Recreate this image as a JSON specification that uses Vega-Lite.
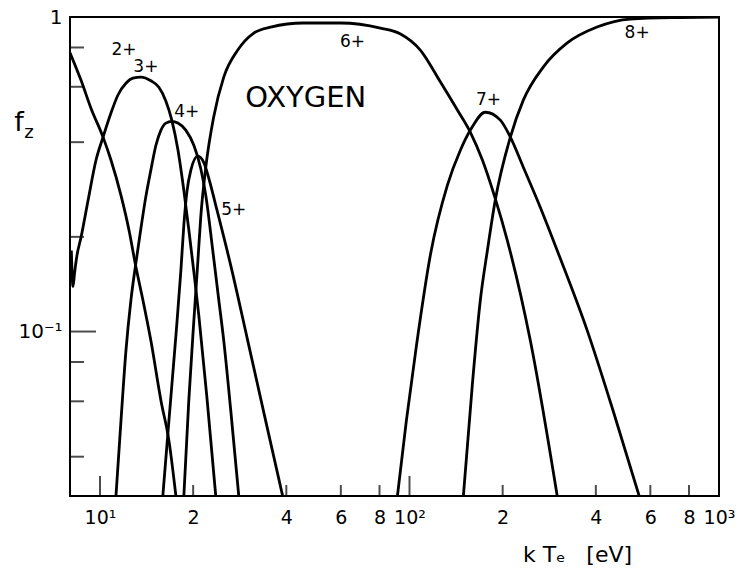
{
  "$schema": "https://vega.github.io/schema/vega-lite/v6.json",
  "width": 649,
  "height": 479,
  "autosize": {"type": "none"},
  "padding": {"left": 70, "top": 17, "right": 23, "bottom": 77},
  "background": "white",
  "config": {
    "view": {"stroke": "black", "strokeWidth": 2},
    "axis": {"labelFont": "DejaVu Sans", "titleFont": "DejaVu Sans", "labelColor": "black", "titleColor": "black"}
  },
  "datasets": {
    "curves": [
      {"ion": "2+", "T": 8.0, "f": 0.77},
      {"ion": "2+", "T": 8.68, "f": 0.63},
      {"ion": "2+", "T": 9.35, "f": 0.513},
      {"ion": "2+", "T": 10.23, "f": 0.415},
      {"ion": "2+", "T": 10.85, "f": 0.351},
      {"ion": "2+", "T": 11.69, "f": 0.271},
      {"ion": "2+", "T": 12.41, "f": 0.21},
      {"ion": "2+", "T": 13.07, "f": 0.16},
      {"ion": "2+", "T": 13.76, "f": 0.126},
      {"ion": "2+", "T": 14.6, "f": 0.0936},
      {"ion": "2+", "T": 15.74, "f": 0.0603},
      {"ion": "2+", "T": 16.7, "f": 0.045},
      {"ion": "2+", "T": 17.59, "f": 0.03},

      {"ion": "3+", "T": 8.08, "f": 0.181},
      {"ion": "3+", "T": 8.18, "f": 0.139},
      {"ion": "3+", "T": 8.28, "f": 0.154},
      {"ion": "3+", "T": 8.43, "f": 0.175},
      {"ion": "3+", "T": 8.68, "f": 0.199},
      {"ion": "3+", "T": 9.15, "f": 0.261},
      {"ion": "3+", "T": 9.71, "f": 0.351},
      {"ion": "3+", "T": 10.23, "f": 0.415},
      {"ion": "3+", "T": 10.85, "f": 0.495},
      {"ion": "3+", "T": 11.43, "f": 0.565},
      {"ion": "3+", "T": 12.13, "f": 0.616},
      {"ion": "3+", "T": 12.78, "f": 0.639},
      {"ion": "3+", "T": 13.56, "f": 0.644},
      {"ion": "3+", "T": 14.6, "f": 0.627},
      {"ion": "3+", "T": 15.5, "f": 0.598},
      {"ion": "3+", "T": 16.33, "f": 0.54},
      {"ion": "3+", "T": 17.06, "f": 0.47},
      {"ion": "3+", "T": 17.85, "f": 0.379},
      {"ion": "3+", "T": 18.66, "f": 0.281},
      {"ion": "3+", "T": 19.36, "f": 0.211},
      {"ion": "3+", "T": 20.1, "f": 0.155},
      {"ion": "3+", "T": 20.85, "f": 0.113},
      {"ion": "3+", "T": 22.13, "f": 0.0624},
      {"ion": "3+", "T": 23.66, "f": 0.03},

      {"ion": "4+", "T": 11.26, "f": 0.03},
      {"ion": "4+", "T": 11.69, "f": 0.0521},
      {"ion": "4+", "T": 12.13, "f": 0.087},
      {"ion": "4+", "T": 12.59, "f": 0.126},
      {"ion": "4+", "T": 13.07, "f": 0.166},
      {"ion": "4+", "T": 13.56, "f": 0.213},
      {"ion": "4+", "T": 14.07, "f": 0.269},
      {"ion": "4+", "T": 14.6, "f": 0.326},
      {"ion": "4+", "T": 15.16, "f": 0.391},
      {"ion": "4+", "T": 15.74, "f": 0.437},
      {"ion": "4+", "T": 16.33, "f": 0.46},
      {"ion": "4+", "T": 17.06, "f": 0.466},
      {"ion": "4+", "T": 17.85, "f": 0.46},
      {"ion": "4+", "T": 18.93, "f": 0.437},
      {"ion": "4+", "T": 20.1, "f": 0.391},
      {"ion": "4+", "T": 21.16, "f": 0.33},
      {"ion": "4+", "T": 21.97, "f": 0.271},
      {"ion": "4+", "T": 23.14, "f": 0.181},
      {"ion": "4+", "T": 24.2, "f": 0.126},
      {"ion": "4+", "T": 25.11, "f": 0.0936},
      {"ion": "4+", "T": 26.46, "f": 0.056},
      {"ion": "4+", "T": 28.08, "f": 0.03},

      {"ion": "5+", "T": 15.96, "f": 0.03},
      {"ion": "5+", "T": 16.7, "f": 0.0521},
      {"ion": "5+", "T": 17.59, "f": 0.0971},
      {"ion": "5+", "T": 18.25, "f": 0.156},
      {"ion": "5+", "T": 18.66, "f": 0.218},
      {"ion": "5+", "T": 19.08, "f": 0.277},
      {"ion": "5+", "T": 19.66, "f": 0.326},
      {"ion": "5+", "T": 20.7, "f": 0.361},
      {"ion": "5+", "T": 21.63, "f": 0.345},
      {"ion": "5+", "T": 22.47, "f": 0.307},
      {"ion": "5+", "T": 23.66, "f": 0.252},
      {"ion": "5+", "T": 26.46, "f": 0.162},
      {"ion": "5+", "T": 30.01, "f": 0.0936},
      {"ion": "5+", "T": 34.29, "f": 0.0521},
      {"ion": "5+", "T": 38.92, "f": 0.03},

      {"ion": "6+", "T": 18.66, "f": 0.03},
      {"ion": "6+", "T": 19.36, "f": 0.0603},
      {"ion": "6+", "T": 20.1, "f": 0.108},
      {"ion": "6+", "T": 20.7, "f": 0.166},
      {"ion": "6+", "T": 21.16, "f": 0.231},
      {"ion": "6+", "T": 21.97, "f": 0.333},
      {"ion": "6+", "T": 23.3, "f": 0.481},
      {"ion": "6+", "T": 25.11, "f": 0.644},
      {"ion": "6+", "T": 27.87, "f": 0.785},
      {"ion": "6+", "T": 31.39, "f": 0.889},
      {"ion": "6+", "T": 35.61, "f": 0.929},
      {"ion": "6+", "T": 45.5, "f": 0.957},
      {"ion": "6+", "T": 59.84, "f": 0.957},
      {"ion": "6+", "T": 80.58, "f": 0.922},
      {"ion": "6+", "T": 93.54, "f": 0.883},
      {"ion": "6+", "T": 108.4, "f": 0.785},
      {"ion": "6+", "T": 125.9, "f": 0.621},
      {"ion": "6+", "T": 142.8, "f": 0.506},
      {"ion": "6+", "T": 157.3, "f": 0.43},
      {"ion": "6+", "T": 172.0, "f": 0.351},
      {"ion": "6+", "T": 189.2, "f": 0.265},
      {"ion": "6+", "T": 207.0, "f": 0.195},
      {"ion": "6+", "T": 245.7, "f": 0.0936},
      {"ion": "6+", "T": 300.1, "f": 0.03},

      {"ion": "7+", "T": 91.41, "f": 0.03},
      {"ion": "7+", "T": 97.7, "f": 0.0521},
      {"ion": "7+", "T": 105.3, "f": 0.0902},
      {"ion": "7+", "T": 116.8, "f": 0.175},
      {"ion": "7+", "T": 132.6, "f": 0.292},
      {"ion": "7+", "T": 146.0, "f": 0.377},
      {"ion": "7+", "T": 157.3, "f": 0.437},
      {"ion": "7+", "T": 175.8, "f": 0.498},
      {"ion": "7+", "T": 196.6, "f": 0.47},
      {"ion": "7+", "T": 211.8, "f": 0.415},
      {"ion": "7+", "T": 233.2, "f": 0.333},
      {"ion": "7+", "T": 264.7, "f": 0.248},
      {"ion": "7+", "T": 300.1, "f": 0.181},
      {"ion": "7+", "T": 375.3, "f": 0.1007},
      {"ion": "7+", "T": 454.9, "f": 0.056},
      {"ion": "7+", "T": 552.2, "f": 0.03},

      {"ion": "8+", "T": 149.3, "f": 0.03},
      {"ion": "8+", "T": 159.7, "f": 0.0683},
      {"ion": "8+", "T": 169.4, "f": 0.126},
      {"ion": "8+", "T": 178.5, "f": 0.181},
      {"ion": "8+", "T": 189.2, "f": 0.261},
      {"ion": "8+", "T": 211.8, "f": 0.415},
      {"ion": "8+", "T": 233.2, "f": 0.544},
      {"ion": "8+", "T": 270.4, "f": 0.693},
      {"ion": "8+", "T": 323.4, "f": 0.827},
      {"ion": "8+", "T": 403.6, "f": 0.929},
      {"ion": "8+", "T": 516.4, "f": 0.985},
      {"ion": "8+", "T": 748.0, "f": 0.996},
      {"ion": "8+", "T": 1000.0, "f": 0.999}
    ],
    "labels": [
      {"label": "2+", "T": 11.95, "f": 0.785},
      {"label": "3+", "T": 14.07, "f": 0.693},
      {"label": "4+", "T": 19.08, "f": 0.498},
      {"label": "5+", "T": 27.06, "f": 0.243},
      {"label": "6+", "T": 65.46, "f": 0.833},
      {"label": "7+", "T": 179.9, "f": 0.544},
      {"label": "8+", "T": 543.8, "f": 0.889}
    ],
    "xticks": [
      {"T": 10, "f": 0.03, "k": "major"}, {"T": 100, "f": 0.03, "k": "major"},
      {"T": 20, "f": 0.03, "k": "minor"}, {"T": 40, "f": 0.03, "k": "minor"},
      {"T": 60, "f": 0.03, "k": "minor"}, {"T": 80, "f": 0.03, "k": "minor"},
      {"T": 200, "f": 0.03, "k": "minor"}, {"T": 400, "f": 0.03, "k": "minor"},
      {"T": 600, "f": 0.03, "k": "minor"}, {"T": 800, "f": 0.03, "k": "minor"}
    ],
    "yticks": [
      {"T": 8, "f": 0.1, "k": "major"},
      {"T": 8, "f": 0.8, "k": "minor"}, {"T": 8, "f": 0.6, "k": "minor"},
      {"T": 8, "f": 0.4, "k": "minor"}, {"T": 8, "f": 0.2, "k": "minor"},
      {"T": 8, "f": 0.08, "k": "minor"}, {"T": 8, "f": 0.06, "k": "minor"},
      {"T": 8, "f": 0.04, "k": "minor"}
    ],
    "note": [{"text": "OXYGEN", "T": 46.2, "f": 0.552}],
    "ytitle": [{"T": 8, "f": 0.46}]
  },
  "encoding": {
    "x": {
      "field": "T", "type": "quantitative",
      "scale": {"type": "log", "domain": [8, 1000], "nice": false},
      "axis": {
        "values": [10, 20, 40, 60, 80, 100, 200, 400, 600, 800, 1000],
        "labelExpr": "datum.value == 10 ? '10¹' : datum.value == 100 ? '10²' : datum.value == 1000 ? '10³' : datum.value < 100 ? format(datum.value / 10, 'd') : format(datum.value / 100, 'd')",
        "ticks": false, "domain": false, "grid": false,
        "labelPadding": 12, "labelFontSize": 19, "labelFlush": false, "labelOverlap": false,
        "title": "k Tₑ\u00a0\u00a0\u00a0[eV]", "titleFontSize": 22, "titleFontWeight": "normal",
        "titleX": 507, "titleY": 58, "titleAlign": "center", "titleBaseline": "middle"
      }
    },
    "y": {
      "field": "f", "type": "quantitative",
      "scale": {"type": "log", "domain": [0.03, 1], "nice": false},
      "axis": {
        "values": [0.1, 1],
        "labelExpr": "datum.value == 1 ? '1' : '10⁻¹'",
        "ticks": false, "domain": false, "grid": false,
        "labelPadding": 8, "labelFontSize": 20, "labelFlush": false, "title": null
      }
    }
  },
  "layer": [
    {
      "data": {"name": "curves"},
      "mark": {"type": "line", "color": "black", "strokeWidth": 2.8, "interpolate": "monotone", "clip": true},
      "encoding": {"detail": {"field": "ion"}}
    },
    {
      "data": {"name": "xticks"},
      "transform": [{"filter": "datum.k == 'major'"}],
      "mark": {"type": "tick", "orient": "vertical", "color": "black", "size": 20, "thickness": 2, "yOffset": -10}
    },
    {
      "data": {"name": "xticks"},
      "transform": [{"filter": "datum.k == 'minor'"}],
      "mark": {"type": "tick", "orient": "vertical", "color": "black", "size": 11, "thickness": 2, "yOffset": -5.5}
    },
    {
      "data": {"name": "yticks"},
      "transform": [{"filter": "datum.k == 'major'"}],
      "mark": {"type": "tick", "orient": "horizontal", "color": "black", "size": 26, "thickness": 2, "xOffset": 13}
    },
    {
      "data": {"name": "yticks"},
      "transform": [{"filter": "datum.k == 'minor'"}],
      "mark": {"type": "tick", "orient": "horizontal", "color": "black", "size": 14, "thickness": 2, "xOffset": 7}
    },
    {
      "data": {"name": "labels"},
      "mark": {"type": "text", "font": "DejaVu Sans", "fontSize": 17, "color": "black"},
      "encoding": {"text": {"field": "label"}}
    },
    {
      "data": {"name": "note"},
      "mark": {"type": "text", "font": "DejaVu Sans", "fontSize": 29, "color": "black"},
      "encoding": {"text": {"field": "text"}}
    },
    {
      "data": {"name": "ytitle"},
      "mark": {"type": "text", "font": "DejaVu Sans", "fontSize": 27, "color": "black", "dx": -51},
      "encoding": {"text": {"value": "f"}}
    },
    {
      "data": {"name": "ytitle"},
      "mark": {"type": "text", "font": "DejaVu Sans", "fontSize": 18, "color": "black", "dx": -41, "dy": 10},
      "encoding": {"text": {"value": "z"}}
    }
  ]
}
